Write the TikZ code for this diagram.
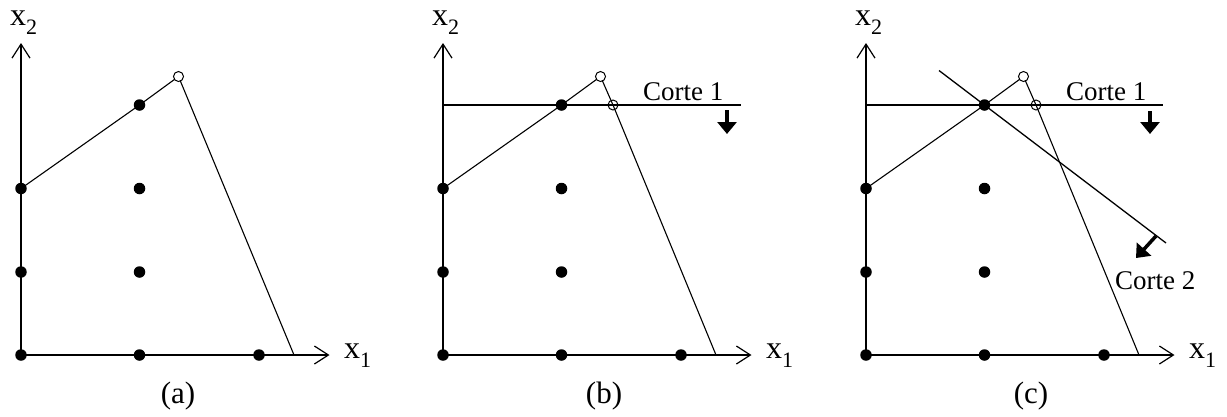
\documentclass[tikz,border=0pt]{standalone}
\usepackage{fontspec}
\setmainfont{Liberation Serif}
\usetikzlibrary{arrows.meta}
\newcommand\subsz{\fontsize{22}{24}\selectfont}
\newcommand\mypanel[1]{%
  \coordinate (#1O) at (0,355);
  \coordinate (#1P10) at (118.5,355);
  \coordinate (#1P20) at (238,355);
  \coordinate (#1P01) at (0,272);
  \coordinate (#1P11) at (118.5,272);
  \coordinate (#1P02) at (0,188.5);
  \coordinate (#1P12) at (118.5,188.5);
  \coordinate (#1P13) at (118.5,105);
  \coordinate (#1V) at (157.5,76.5);
  \coordinate (#1R) at (273,355);
  \coordinate (#1Y) at (0,43);
  \coordinate (#1X) at (308.5,355);
  \draw[axis] (#1O) -- (#1Y);
  \draw[axis] (#1O) -- (#1X);
  \node[axlab,anchor=base west] (#1xtwo) at (-11,25) {x\raisebox{-0.3em}{\subsz 2}};
  \node[axlab,anchor=base west] (#1xone) at (323,358) {x\raisebox{-0.3em}{\subsz 1}};
}
\newcommand\mydots[1]{%
  \foreach \p in {O,P10,P20,P01,P11,P02,P12,P13} {\node[dot] (#1d\p) at (#1\p) {};}
}
\begin{document}
\begin{tikzpicture}[x=1pt,y=-1pt,
  dot/.style={circle,fill=black,inner sep=0pt,minimum size=11.5pt},
  odot/.style={circle,draw=black,line width=1pt,fill=white,inner sep=0pt,minimum size=10pt},
  odotc/.style={circle,draw=black,line width=1pt,inner sep=0pt,minimum size=10pt},
  axis/.style={line width=1.8pt,-{Straight Barb[length=14pt,width=18pt,line width=1.2pt]}},
  edge/.style={line width=1.1pt},
  cut/.style={line width=1.3pt},
  cutarrow/.style={line width=3.5pt,-{Triangle[length=12pt,width=19pt]}},
  lab/.style={inner sep=0pt,font=\fontsize{27}{30}\selectfont},
  axlab/.style={inner sep=0pt,font=\fontsize{32}{34}\selectfont},
  panlab/.style={inner sep=0pt,font=\fontsize{31}{34}\selectfont}]
\useasboundingbox (0,0) rectangle (1227,416);
% ---------- panel (a)
\begin{scope}[shift={(21,0)}]
  \mypanel{a}
  \draw[edge] (aP02) -- (aP13) -- (aV) -- (aR);
  \mydots{a}
  \node[odot] (aVc) at (aV) {};
  \node[panlab,anchor=base] (alab) at (157,403) {(a)};
\end{scope}
% ---------- panel (b)
\begin{scope}[shift={(443,0)}]
  \mypanel{b}
  \coordinate (bQ) at (170,105);
  \coordinate (bC1a) at (0,105);
  \coordinate (bC1b) at (298,105);
  \coordinate (bA1) at (284,110);
  \coordinate (bA2) at (284,134);
  \draw[edge] (bP02) -- (bP13) -- (bV) -- (bQ) -- (bR);
  \draw[cut] (bC1a) -- (bC1b);
  \draw[cutarrow] (bA1) -- (bA2);
  \mydots{b}
  \node[odot] (bVc) at (bV) {};
  \node[odotc] (bQc) at (bQ) {};
  \node[lab,anchor=base west] (bc1) at (200,100) {Corte 1};
  \node[panlab,anchor=base] (blab) at (161,403) {(b)};
\end{scope}
% ---------- panel (c)
\begin{scope}[shift={(866,0)}]
  \mypanel{c}
  \coordinate (cQ) at (170,105);
  \coordinate (cC1a) at (0,105);
  \coordinate (cC1b) at (297,105);
  \coordinate (cA1) at (284,111);
  \coordinate (cA2) at (284,134);
  \coordinate (cC2a) at (73,70.5);
  \coordinate (cC2b) at (300,243);
  \coordinate (cB1) at (290,236);
  \coordinate (cB2) at (270,258);
  \draw[edge] (cP02) -- (cP13) -- (cV) -- (cQ) -- (cR);
  \draw[cut] (cC1a) -- (cC1b);
  \draw[cut] (cC2a) -- (cC2b);
  \draw[cutarrow] (cA1) -- (cA2);
  \draw[cutarrow] (cB1) -- (cB2);
  \mydots{c}
  \node[odot] (cVc) at (cV) {};
  \node[odotc] (cQc) at (cQ) {};
  \node[lab,anchor=base west] (cc1) at (200,100) {Corte 1};
  \node[lab,anchor=base west] (cc2) at (249,289) {Corte 2};
  \node[panlab,anchor=base] (clab) at (165,403) {(c)};
\end{scope}
\end{tikzpicture}
\end{document}
